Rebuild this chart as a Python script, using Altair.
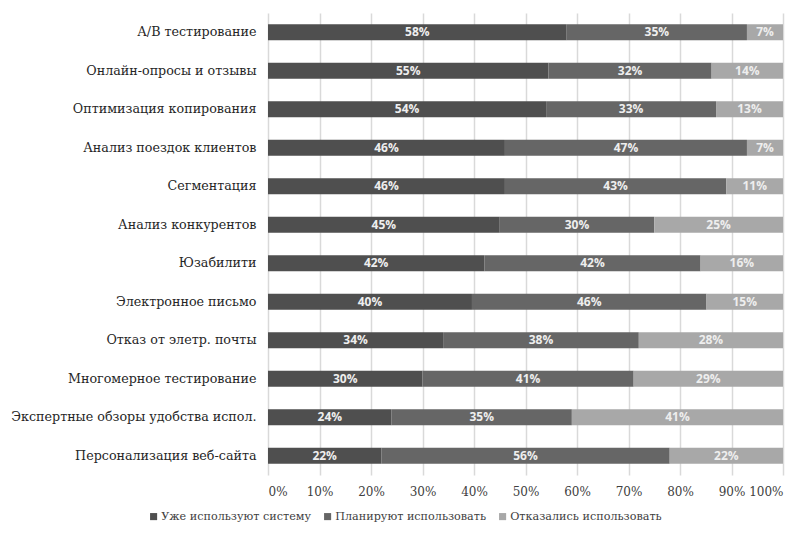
import altair as alt
import pandas as pd

categories = [
    "А/В тестирование",
    "Онлайн-опросы и отзывы",
    "Оптимизация копирования",
    "Анализ поездок клиентов",
    "Сегментация",
    "Анализ конкурентов",
    "Юзабилити",
    "Электронное письмо",
    "Отказ от элетр. почты",
    "Многомерное тестирование",
    "Экспертные обзоры удобства испол.",
    "Персонализация веб-сайта",
]
series = ["Уже используют систему", "Планируют использовать", "Отказались использовать"]
used = [58, 55, 54, 46, 46, 45, 42, 40, 34, 30, 24, 22]
planned = [35, 32, 33, 47, 43, 30, 42, 46, 38, 41, 35, 56]
refused = [7, 14, 13, 7, 11, 25, 16, 15, 28, 29, 41, 22]
colors = ["#4f4f4f", "#666666", "#a8a8a8"]

SERIF = "DejaVu Serif"

rows = []
for i, c in enumerate(categories):
    for j, (s, vals) in enumerate(zip(series, [used, planned, refused])):
        rows.append({"cat": c, "series": s, "order": j, "value": vals[i]})
df = pd.DataFrame(rows)

base = alt.Chart(df).transform_stack(
    as_=["x0", "x1"], stack="value", groupby=["cat"],
    sort=[alt.SortField("order")], offset="normalize",
).transform_calculate(mid="(datum.x0 + datum.x1) / 2", lbl="datum.value + '%'")

y_enc = alt.Y("cat:N", sort=categories, title=None,
              scale=alt.Scale(paddingInner=0.58, paddingOuter=0.29),
              axis=alt.Axis(labelFont=SERIF, labelFontSize=12.7, labelColor="#262626",
                            ticks=False, domain=False, labelPadding=12, labelLimit=300))

bars = base.mark_bar(strokeWidth=0).encode(
    x=alt.X("x0:Q", scale=alt.Scale(domain=[0, 1]), title=None,
            axis=alt.Axis(format=".0%", values=[i / 10 for i in range(11)],
                          labelFont=SERIF, labelFontSize=12, labelColor="#404040",
                          grid=True, gridColor="#d9d9d9", gridWidth=1.5, ticks=False, domain=False,
                          labelPadding=11)),
    x2="x1:Q",
    y=y_enc,
    color=alt.Color("series:N", sort=series, scale=alt.Scale(domain=series, range=colors),
                    legend=alt.Legend(title=None, orient="none", legendX=-120, legendY=498,
                                      direction="horizontal", columns=3, gridAlign="none",
                                      symbolType="square", symbolSize=50, symbolStrokeWidth=0,
                                      labelFont=SERIF, labelFontSize=11.2,
                                      labelColor="#404040", columnPadding=10, labelOffset=2,
                                      labelLimit=300)),
    order=alt.Order("order:Q"),
)

labels = base.mark_text(font="Open Sans", fontWeight="bold", fontSize=12, color="#eeeeee").encode(
    x="mid:Q",
    y=alt.Y("cat:N", sort=categories),
    text="lbl:N",
)

chart = (bars + labels).properties(
    width=515, height=462,
    autosize=alt.AutoSizeParams(type="none"),
    padding={"left": 268, "top": 13, "right": 20, "bottom": 61},
).configure_view(stroke=None)

chart.save("out.html", embed_options={"renderer": "svg", "actions": False})
